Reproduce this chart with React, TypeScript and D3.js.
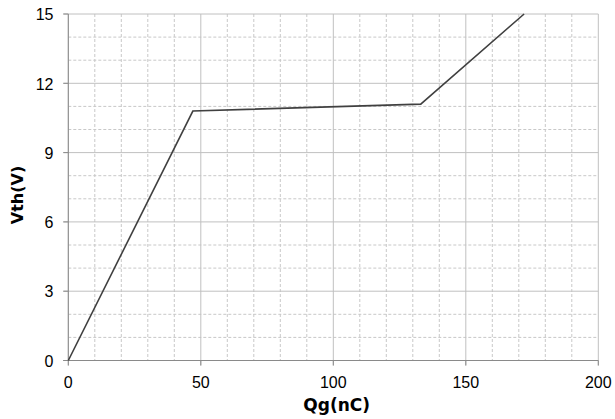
import React from "react";
import * as d3 from "d3";

const qg = [0, 47, 133, 172];
const vth = [0, 10.8, 11.1, 15];
const xTicks = [0, 50, 100, 150, 200];
const yTicks = [0, 3, 6, 9, 12, 15];
const xMinor = d3.range(10, 200, 10).filter((v) => v % 50 !== 0);
const yMinor = d3.range(1, 15, 1).filter((v) => v % 3 !== 0);

export default function App() {
  const W = 615, H = 419;
  const L = 68.3, R = 598.3, T = 14, B = 360.5;
  const x = d3.scaleLinear().domain([0, 200]).range([L, R]);
  const y = d3.scaleLinear().domain([0, 15]).range([B, T]);
  const pts = qg.map((q, i) => [q, vth[i]] as [number, number]);
  const line = d3.line<[number, number]>().x((d) => x(d[0])).y((d) => y(d[1]));
  const tickFont = "'Liberation Sans', Arial, sans-serif";
  const titleFont = "'DejaVu Sans', sans-serif";
  return (
    <svg width={W} height={H} style={{ position: "absolute", left: 0, top: 0 }}>
      <rect width={W} height={H} fill="#fff" />
      {xMinor.map((v) => (
        <line key={"xm" + v} x1={x(v)} x2={x(v)} y1={T} y2={B} stroke="#c8c8c8" strokeDasharray="3,2" />
      ))}
      {yMinor.map((v) => (
        <line key={"ym" + v} x1={L} x2={R} y1={y(v)} y2={y(v)} stroke="#c8c8c8" strokeDasharray="3,2" />
      ))}
      {xTicks.map((v) => (
        <line key={"xM" + v} x1={x(v)} x2={x(v)} y1={T} y2={B + 5} stroke="#c0c0c0" />
      ))}
      {yTicks.map((v) => (
        <line key={"yM" + v} x1={L - 5} x2={R} y1={y(v)} y2={y(v)} stroke="#c0c0c0" />
      ))}
      <line x1={L} x2={L} y1={T} y2={B} stroke="#8a8a8a" />
      <line x1={L - 5} x2={R} y1={B} y2={B} stroke="#8a8a8a" />
      {xTicks.map((v) => (
        <line key={"xt" + v} x1={x(v)} x2={x(v)} y1={B} y2={B + 5} stroke="#8a8a8a" />
      ))}
      {yTicks.map((v) => (
        <line key={"yt" + v} x1={L - 5} x2={L} y1={y(v)} y2={y(v)} stroke="#8a8a8a" />
      ))}
      <path d={line(pts) || ""} fill="none" stroke="#404040" strokeWidth={1.6} />
      {xTicks.map((v) => (
        <text key={"xl" + v} x={x(v)} y={B + 27.5} textAnchor="middle" fontFamily={tickFont} fontSize={16} fill="#000">
          {v}
        </text>
      ))}
      {yTicks.map((v) => (
        <text key={"yl" + v} x={53.5} y={y(v) + 6.2} textAnchor="end" fontFamily={tickFont} fontSize={16} fill="#000">
          {v}
        </text>
      ))}
      <text x={336.7} y={410.5} textAnchor="middle" fontFamily={titleFont} fontSize={17} fontWeight="bold" fill="#000">
        Qg(nC)
      </text>
      <text transform={`translate(23,195) rotate(-90)`} textAnchor="middle" fontFamily={titleFont} fontSize={16} fontWeight="bold" fill="#000">
        Vth(V)
      </text>
    </svg>
  );
}
